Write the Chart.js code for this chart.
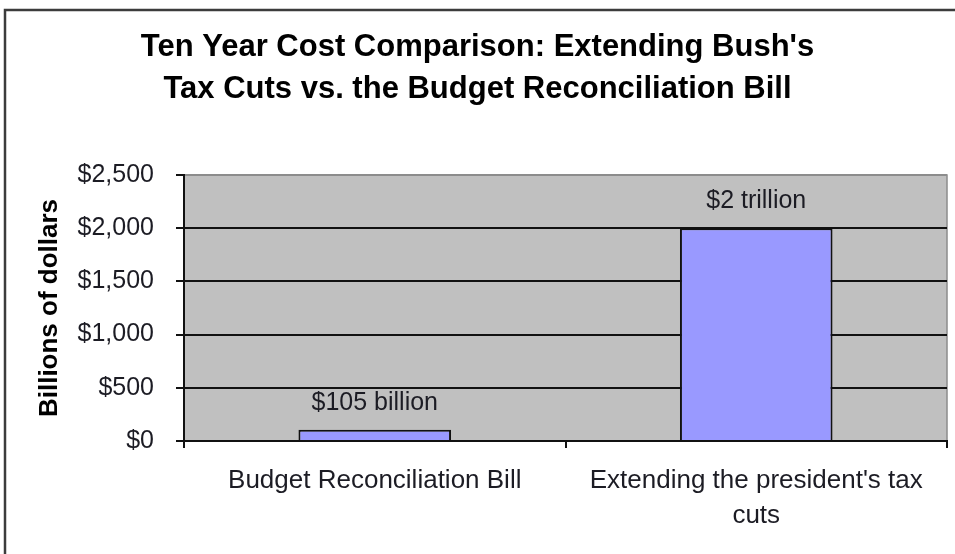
<!DOCTYPE html>
<html>
<head>
<meta charset="utf-8">
<script src="https://cdn.jsdelivr.net/npm/chart.js@4/dist/chart.umd.min.js"></script>
<style>
  html, body { margin: 0; padding: 0; background: #fff; }
  #wrap { width: 955px; height: 554px; position: relative; }
</style>
</head>
<body>
<div id="wrap"><canvas id="cost"></canvas></div>
<script>
// ten-year cost, billions of dollars
const CATEGORIES = [
  ['Budget Reconciliation Bill'],
  ["Extending the president's tax", 'cuts'],
]
const COSTS = [105, 2000]
const COST_LABELS = ['$105 billion', '$2 trillion']
const Y_TICKS = [0, 500, 1000, 1500, 2000, 2500]

const FONT = "'Liberation Sans', Arial, sans-serif"

// white page, dark frame on the top/left edges, grey plot area
const frame = {
  id: 'frame',
  beforeDraw(chart) {
    const { ctx, chartArea: a } = chart
    ctx.save()
    ctx.fillStyle = '#fff'
    ctx.fillRect(0, 0, chart.width, chart.height)
    ctx.strokeStyle = '#3c3c3c'
    ctx.lineWidth = 2.5
    ctx.beginPath()
    ctx.moveTo(5, chart.height)
    ctx.lineTo(5, 10)
    ctx.lineTo(chart.width, 10)
    ctx.stroke()
    ctx.fillStyle = '#c0c0c0'
    ctx.fillRect(a.left, a.top, a.right - a.left, a.bottom - a.top)
    ctx.strokeStyle = '#8c8c8c'
    ctx.lineWidth = 1.5
    ctx.strokeRect(a.left, a.top, a.right - a.left, a.bottom - a.top)
    ctx.restore()
  },
}

// value text above each bar
const barLabels = {
  id: 'barLabels',
  afterDatasetsDraw(chart) {
    const { ctx } = chart
    ctx.save()
    ctx.font = `25px ${FONT}`
    ctx.fillStyle = '#1c1c24'
    ctx.textAlign = 'center'
    ctx.textBaseline = 'middle'
    chart.getDatasetMeta(0).data.forEach((bar, i) => {
      ctx.fillText(COST_LABELS[i], bar.x, bar.y - 27)
    })
    ctx.restore()
  },
}

new Chart(document.getElementById('cost'), {
  type: 'bar',
  data: {
    labels: CATEGORIES,
    datasets: [{
      data: COSTS,
      backgroundColor: '#9999ff',
      borderColor: '#111',
      borderWidth: 2,
      barPercentage: 0.4,
      categoryPercentage: 1,
    }],
  },
  options: {
    responsive: true,
    maintainAspectRatio: false,
    animation: false,
    layout: { padding: { left: 8, right: 8, top: 0, bottom: 0 } },
    plugins: {
      legend: { display: false },
      tooltip: { enabled: false },
      title: {
        display: true,
        text: ["Ten Year Cost Comparison: Extending Bush's", 'Tax Cuts vs. the Budget Reconciliation Bill'],
        color: '#000',
        font: { family: FONT, size: 31, weight: 'bold', lineHeight: 1.355 },
        padding: { top: 26, bottom: 65 },
      },
    },
    scales: {
      x: {
        afterFit: s => { s.height = 113 },
        grid: { offset: true, drawOnChartArea: false, drawTicks: true, tickLength: 7, color: '#111', lineWidth: 2 },
        border: { color: '#111', width: 2 },
        ticks: {
          color: '#1c1c24', padding: 15, maxRotation: 0, autoSkip: false,
          font: { family: FONT, size: 26, lineHeight: 1.35 },
        },
      },
      y: {
        min: 0,
        max: 2500,
        afterFit: s => { s.width = 176 },
        afterBuildTicks: s => { s.ticks = Y_TICKS.map(v => ({ value: v })) },
        grid: {
          color: c => (c.tick && c.tick.value === 2500 ? '#8c8c8c' : '#111'),
          lineWidth: 2,
          tickColor: '#111',
          tickLength: 8,
        },
        border: { color: '#111', width: 2 },
        ticks: {
          color: '#1c1c24', padding: 22,
          font: { family: FONT, size: 25 },
          callback: v => '$' + v.toLocaleString('en-US'),
        },
        title: {
          display: true,
          text: 'Billions of dollars',
          color: '#000',
          font: { family: FONT, size: 26, weight: 'bold', lineHeight: 1.2 },
          padding: { top: 26, bottom: 0 },
        },
      },
    },
  },
  plugins: [frame, barLabels],
})
</script>
</body>
</html>
